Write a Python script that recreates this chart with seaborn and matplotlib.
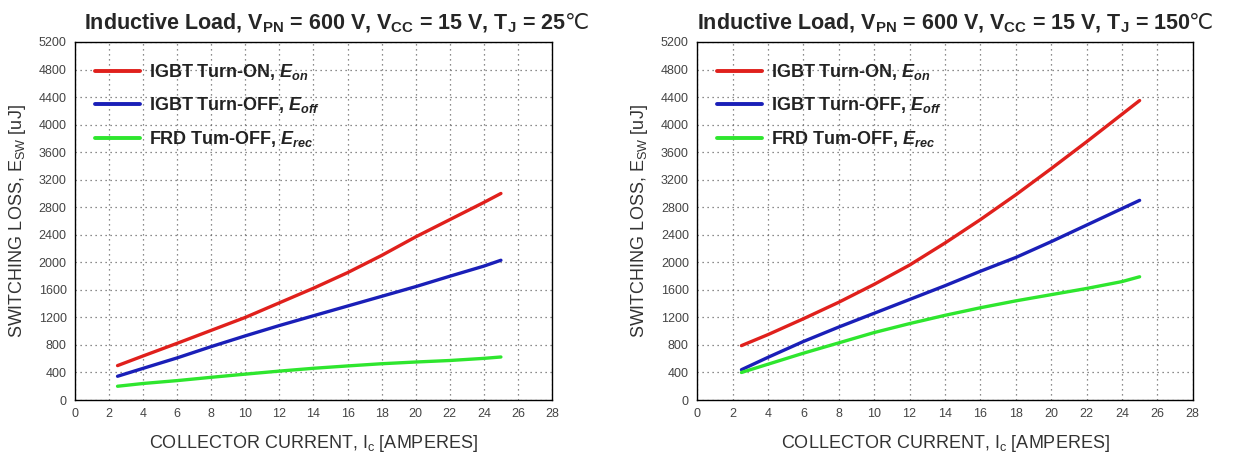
#Switching loss vs collector current
import seaborn as sns
import numpy as np
import pandas as pd
import matplotlib.pyplot as plt

sns.set_style("white")
plt.rcParams['font.family'] = ['Liberation Sans', 'DejaVu Sans']
plt.rcParams['mathtext.fontset'] = 'custom'
plt.rcParams['mathtext.rm'] = 'Liberation Sans'
plt.rcParams['mathtext.it'] = 'Liberation Sans:italic:bold'
plt.rcParams['mathtext.bf'] = 'Liberation Sans:bold'

# collector current [A]
ic = [2.5, 4, 6, 8, 10, 12, 14, 16, 18, 20, 22, 24, 25]

# Tj = 25 C
eon_25 = [500, 640, 824, 1012, 1200, 1412, 1624, 1850, 2100, 2370, 2620, 2870, 3000]
eoff_25 = [345, 460, 612, 776, 932, 1082, 1224, 1365, 1506, 1647, 1798, 1945, 2030]
erec_25 = [200, 240, 282, 330, 376, 420, 461, 495, 527, 552, 574, 605, 625]

# Tj = 150 C
eon_150 = [790, 950, 1180, 1420, 1680, 1960, 2280, 2620, 2980, 3360, 3750, 4150, 4350]
eoff_150 = [440, 620, 850, 1060, 1260, 1460, 1660, 1870, 2070, 2300, 2540, 2780, 2900]
erec_150 = [400, 520, 680, 830, 980, 1110, 1230, 1340, 1440, 1530, 1620, 1720, 1790]

labels = ['IGBT Turn-ON, $\\mathit{E_{on}}$',
          'IGBT Turn-OFF, $\\mathit{E_{off}}$',
          'FRD Tum-OFF, $\\mathit{E_{rec}}$']
colors = ['#e0201c', '#1a1fb8', '#2ee62e']
titles = ['Inductive Load, $\\mathregular{V_{PN}}$ = 600 V, $\\mathregular{V_{CC}}$ = 15 V, $\\mathregular{T_J}$ = 25',
          'Inductive Load, $\\mathregular{V_{PN}}$ = 600 V, $\\mathregular{V_{CC}}$ = 15 V, $\\mathregular{T_J}$ = 150']
title_x = [0.525, 0.497]


def make_df(e1, e2, e3):
    rows = []
    for name, vals in zip(labels, [e1, e2, e3]):
        for x, y in zip(ic, vals):
            rows.append({'Ic': x, 'E': y, 'curve': name})
    return pd.DataFrame(rows)


fig = plt.figure(figsize=(12.45, 4.59), dpi=100)
ax1 = fig.add_axes([0.0602, 0.1285, 0.3832, 0.78])
ax2 = fig.add_axes([0.5600, 0.1285, 0.3980, 0.78])

for ax, df, title, tx in [(ax1, make_df(eon_25, eoff_25, erec_25), titles[0], title_x[0]),
                          (ax2, make_df(eon_150, eoff_150, erec_150), titles[1], title_x[1])]:
    sns.lineplot(data=df, x='Ic', y='E', hue='curve', palette=colors, ax=ax, lw=2.4)
    ax.set_xlim(0, 28)
    ax.set_ylim(0, 5200)
    ax.xaxis.set_ticks(np.arange(0, 29, 2))
    ax.yaxis.set_ticks(np.arange(0, 5201, 400))
    ax.grid(True, ls=(0, (1, 3)), color='#666666', lw=0.9)
    ax.tick_params(labelsize=9, colors='#444444', length=0, pad=6)
    for s in ax.spines.values():
        s.set_color('black')
        s.set_linewidth(1.0)
    ax.set_xlabel('COLLECTOR CURRENT, I$_\\mathregular{c}$ [AMPERES]', fontsize=13, color='#333333', labelpad=9)
    ax.set_ylabel('SWITCHING LOSS, E$_\\mathregular{SW}$ [uJ]', fontsize=13, color='#333333', labelpad=8)
    ttl = ax.set_title(title, fontsize=15.5, fontweight='bold', pad=9, x=tx)
    # degree Celsius sign drawn right after the title text
    ax.annotate('\u2103', xy=(1, 0), xycoords=ttl, xytext=(-1, 1.5), textcoords='offset points',
                fontsize=15.5, family=['DejaVu Sans'], ha='left', va='bottom')
    leg = ax.legend(loc='upper left', frameon=False, fontsize=13, handlelength=2.5,
                    borderaxespad=0.7, labelspacing=0.75, handletextpad=0.5)
    for t in leg.get_texts():
        t.set_fontweight('bold')
        t.set_color('#222222')
    for ln in leg.get_lines():
        ln.set_linewidth(2.8)

plt.savefig('out.png', dpi=100)
